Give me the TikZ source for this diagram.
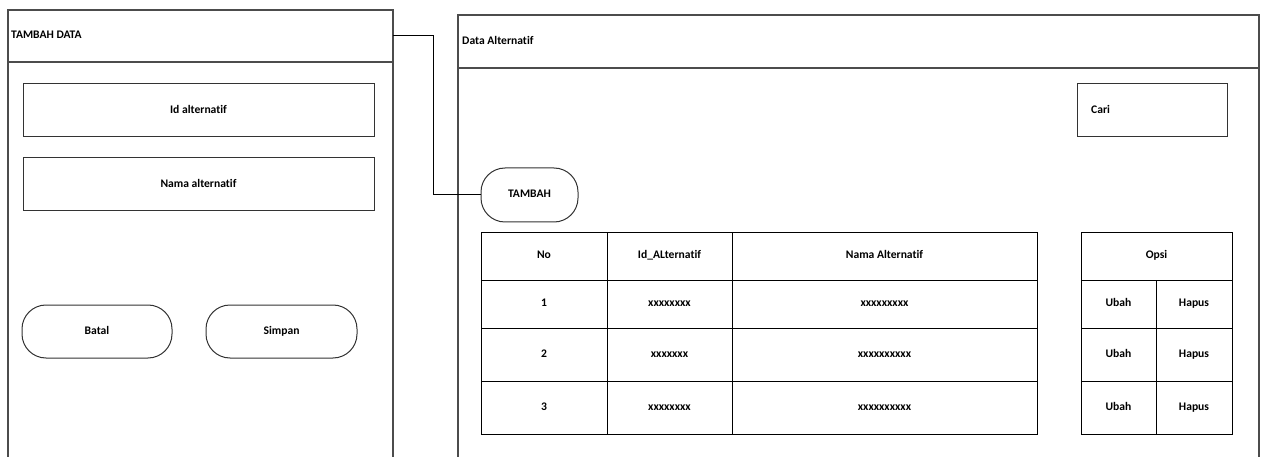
\documentclass[tikz,border=0pt]{standalone}
\usepackage{fontspec}
\setmainfont{Carlito}[Ligatures=NoCommon]
\begin{document}
\begin{tikzpicture}[x=1pt,y=-1pt,
  every node/.style={font=\fontsize{11.6}{14}\selectfont\bfseries, text height=8pt, text depth=2.5pt},
  frame/.style={draw=black!70, line width=1.2pt},
  box/.style={draw=black!80, line width=1pt, inner sep=0pt, outer sep=0pt, anchor=north west},
  btn/.style={box, rounded corners=24pt},
  cell/.style={draw=black, line width=0.9pt, inner sep=0pt, outer sep=0pt, anchor=north west},
  lbl/.style={inner sep=0pt, anchor=west},
  wire/.style={draw=black, line width=1pt}]
\useasboundingbox (0,0) rectangle (1264,457);

% ---------- left window ----------
\node[box, frame, minimum width=385, minimum height=52] (lhead) at (8,10) {};
\node[lbl] (ltitle) at (11,36) {TAMBAH DATA};
\draw[frame] (lhead.south west) -- (8,457);
\draw[frame] (lhead.south east) -- (393,457);
\node[box, minimum width=351, minimum height=53] (idalt) at (23,84) {Id alternatif};
\node[box, minimum width=351, minimum height=53] (namaalt) at (23,158) {Nama alternatif};
\node[btn, minimum width=150, minimum height=53] (batal) at (22,305) {Batal};
\node[btn, minimum width=151, minimum height=53] (simpan) at (206,305) {Simpan};

% ---------- right window ----------
\node[box, frame, minimum width=801, minimum height=53] (rhead) at (458,15) {};
\node[lbl] (rtitle) at (462,42) {Data Alternatif};
\draw[frame] (rhead.south west) -- (458,457);
\draw[frame] (rhead.south east) -- (1259,457);
\node[box, minimum width=150, minimum height=53] (cari) at (1077,84) {};
\node[lbl] (caritxt) at (1091,111) {Cari};
\node[btn, minimum width=97, minimum height=54] (tambah) at (481,168) {TAMBAH};

% ---------- table ----------
\node[cell, minimum width=126, minimum height=48] (h1) at (481,232) {No};
\node[cell, minimum width=125, minimum height=48] (h2) at (607,232) {Id\_ALternatif};
\node[cell, minimum width=305, minimum height=48] (h3) at (732,232) {Nama Alternatif};

\node[cell, minimum width=126, minimum height=48] (a1) at (481,280) {1};
\node[cell, minimum width=125, minimum height=48] (a2) at (607,280) {xxxxxxxx};
\node[cell, minimum width=305, minimum height=48] (a3) at (732,280) {xxxxxxxxx};

\node[cell, minimum width=126, minimum height=53] (b1) at (481,328) {2};
\node[cell, minimum width=125, minimum height=53] (b2) at (607,328) {xxxxxxx};
\node[cell, minimum width=305, minimum height=53] (b3) at (732,328) {xxxxxxxxxx};

\node[cell, minimum width=126, minimum height=53] (c1) at (481,381) {3};
\node[cell, minimum width=125, minimum height=53] (c2) at (607,381) {xxxxxxxx};
\node[cell, minimum width=305, minimum height=53] (c3) at (732,381) {xxxxxxxxxx};

% ---------- option table ----------
\node[cell, minimum width=151, minimum height=48] (oh) at (1081,232) {Opsi};
\node[cell, minimum width=75, minimum height=48] (ou1) at (1081,280) {Ubah};
\node[cell, minimum width=76, minimum height=48] (oh1) at (1156,280) {Hapus};
\node[cell, minimum width=75, minimum height=53] (ou2) at (1081,328) {Ubah};
\node[cell, minimum width=76, minimum height=53] (oh2) at (1156,328) {Hapus};
\node[cell, minimum width=75, minimum height=53] (ou3) at (1081,381) {Ubah};
\node[cell, minimum width=76, minimum height=53] (oh3) at (1156,381) {Hapus};

% ---------- connector ----------
\draw[wire] (lhead.east) -- ++(40,0) |- (tambah.west);
\end{tikzpicture}
\end{document}
